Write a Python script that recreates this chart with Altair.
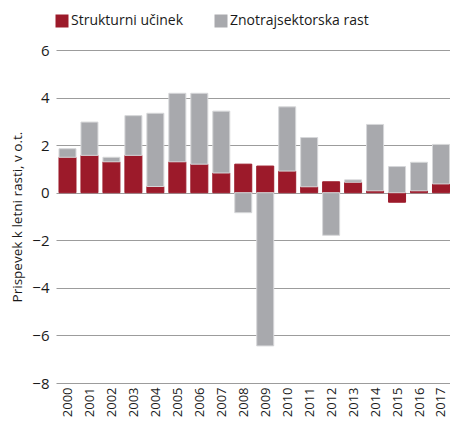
import altair as alt
import pandas as pd

years = list(range(2000, 2018))
strukturni = [1.49, 1.57, 1.30, 1.57, 0.26, 1.30, 1.20, 0.83, 1.20, 1.12,
              0.91, 0.25, 0.46, 0.44, 0.08, -0.40, 0.08, 0.37]
znotraj = [0.36, 1.40, 0.19, 1.67, 3.08, 2.88, 2.98, 2.60, -0.84, -6.44,
           2.70, 2.07, -1.79, 0.10, 2.79, 1.10, 1.20, 1.66]
series_names = ["Strukturni učinek", "Znotrajsektorska rast"]
y_ticks = [-8, -6, -4, -2, 0, 2, 4, 6]

rows = []
for i, y in enumerate(years):
    rows.append({"year": y, "series": series_names[0], "value": strukturni[i], "ord": 0})
    rows.append({"year": y, "series": series_names[1], "value": znotraj[i], "ord": 1})
df = pd.DataFrame(rows)

FONT = "Open Sans"

chart = alt.Chart(df).mark_bar(width=17, clip=True, strokeWidth=1).encode(
    x=alt.X("year:Q",
            scale=alt.Scale(domain=[1999.477, 2017.41], nice=False, zero=False, padding=0),
            axis=alt.Axis(values=years, format="d", labelAngle=-90, ticks=False,
                          domain=False, grid=False, labelFlush=False,
                          labelOverlap=False, labelPadding=4, labelFontSize=13,
                          labelFont=FONT, labelColor="#1a1a1a", title=None)),
    y=alt.Y("value:Q", stack="zero",
            scale=alt.Scale(domain=[-8, 6], nice=False, padding=0),
            axis=alt.Axis(values=y_ticks, ticks=False, domain=False, grid=True,
                          gridColor="#9c9c9c", gridWidth=1, labelPadding=7,
                          labelFontSize=15, labelFont=FONT, labelColor="#1a1a1a",
                          title="Prispevek k letni rasti, v o.t.",
                          titleFont=FONT, titleFontSize=13.5, titleFontWeight="normal",
                          titleColor="#1a1a1a", titlePadding=7)),
    color=alt.Color("series:N",
                    scale=alt.Scale(domain=series_names, range=["#9c1a2a", "#a8a9ad"]),
                    legend=alt.Legend(orient="none", legendX=-1, legendY=-36,
                                      direction="horizontal", title=None,
                                      symbolType="square", symbolSize=169,
                                      symbolStrokeWidth=0, labelFont=FONT,
                                      labelFontSize=14, labelColor="#1a1a1a",
                                      labelOffset=2, columnPadding=30, padding=0)),
    stroke=alt.Stroke("series:N",
                      scale=alt.Scale(domain=series_names, range=["#9c1a2a", "#d6d7d9"]),
                      legend=None),
    order=alt.Order("ord:Q", sort="ascending"),
).properties(
    width=394, height=333,
    autosize=alt.AutoSizeParams(type="none"),
    padding={"left": 48, "top": 42, "right": 0, "bottom": 34},
).configure_view(stroke=None)

chart.save("out.html", embed_options={"renderer": "svg", "actions": False})
